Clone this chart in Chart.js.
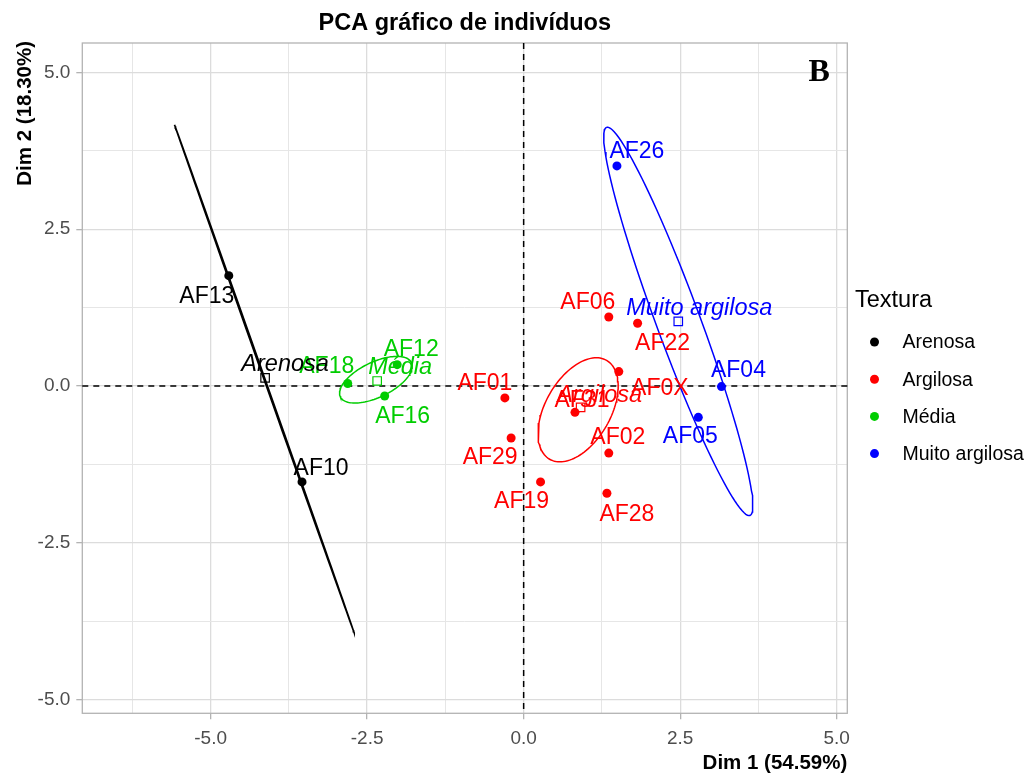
<!DOCTYPE html>
<html>
<head>
<meta charset="utf-8">
<title>PCA gráfico de indivíduos</title>
<script src="https://cdn.jsdelivr.net/npm/chart.js@4"></script>
<style>
  body { margin: 0; background: #fff; }
  canvas { display: block; }
</style>
</head>
<body>
<canvas id="pca" width="1031" height="773"></canvas>
<script>
// soil texture groups and their colours
var groups = ['Arenosa', 'Argilosa', 'Média', 'Muito argilosa'];
var groupColors = ['#000000', '#FF0000', '#00CD00', '#0000FF'];

// individuals: name, coordinates on Dim 1 / Dim 2 and texture group (index into groups)
var names   = ['AF13', 'AF10', 'AF18', 'AF12', 'AF16', 'AF06', 'AF22', 'AF0X', 'AF01', 'AF31', 'AF29', 'AF02', 'AF19', 'AF28', 'AF26', 'AF04', 'AF05'];
var dim1    = [-4.71, -3.54, -2.81, -2.02, -2.22, 1.36, 1.82, 1.52, -0.30, 0.82, -0.20, 1.36, 0.27, 1.33, 1.49, 3.16, 2.79];
var dim2    = [1.76, -1.53, 0.04, 0.34, -0.16, 1.10, 1.00, 0.23, -0.19, -0.42, -0.83, -1.07, -1.53, -1.71, 3.51, -0.01, -0.50];
var texture = [0, 0, 2, 2, 2, 1, 1, 1, 1, 1, 1, 1, 1, 1, 3, 3, 3];

// group centroids (open squares)
var centerX = [-4.13, 0.91, -2.34, 2.47];
var centerY = [0.13, -0.34, 0.08, 1.03];

// confidence ellipses: centre, semi-axes and rotation (degrees)
var ellX = [-4.14, 0.87, -2.36, 2.47];
var ellY = [0.11, -0.38, 0.10, 1.03];
var ellA = [4.30, 0.91, 0.63, 3.30];
var ellB = [0.01, 0.52, 0.28, 0.35];
var ellAngle = [109.5, 60, 25.7, 110.3];

// axis breaks (major every 2.5, minor in between)
var xTicks = [-6.25, -5, -3.75, -2.5, -1.25, 0, 1.25, 2.5, 3.75, 5];
var yTicks = [-5, -3.75, -2.5, -1.25, 0, 1.25, 2.5, 3.75, 5];

// text nudges in pixels for the repelled labels
var labelNudge = {
  AF13: [-22, 21], AF10: [19, -13], AF18: [-21, -17], AF12: [14, -15], AF16: [18, 21],
  AF06: [-21, -14], AF22: [25, 20], AF0X: [41, 17], AF01: [-20, -14], AF31: [7, -12],
  AF29: [-21, 20], AF02: [9, -15], AF19: [-19, 20], AF28: [20, 21],
  AF26: [20, -14], AF04: [17, -16], AF05: [-8, 19]
};
var groupNudge = [[20, -13], [19, -12], [23, -14], [21, -13]];

var SANS = '"Liberation Sans", Arial, Helvetica, sans-serif';

function isMajor(v) {
  return Math.abs(v / 2.5 - Math.round(v / 2.5)) < 1e-6;
}

function ellipse(cx, cy, a, b, deg) {
  var t = deg * Math.PI / 180, pts = [];
  for (var i = 0; i <= 120; i++) {
    var s = i / 120 * 2 * Math.PI;
    var ex = a * Math.cos(s), ey = b * Math.sin(s);
    pts.push({ x: cx + ex * Math.cos(t) - ey * Math.sin(t), y: cy + ex * Math.sin(t) + ey * Math.cos(t) });
  }
  return pts;
}

var datasets = [];
for (var g = 0; g < groups.length; g++) {
  datasets.push({
    label: groups[g] + ' ellipse',
    data: ellipse(ellX[g], ellY[g], ellA[g], ellB[g], ellAngle[g]),
    showLine: true, fill: false, pointRadius: 0, tension: 0,
    borderColor: groupColors[g], borderWidth: 1.5,
    order: 3
  });
  var pts = [];
  for (var i = 0; i < names.length; i++) {
    if (texture[i] === g) pts.push({ x: dim1[i], y: dim2[i], name: names[i] });
  }
  datasets.push({
    label: groups[g],
    data: pts,
    pointRadius: 4.5, pointBorderWidth: 0,
    backgroundColor: groupColors[g], borderColor: groupColors[g],
    order: 1
  });
  datasets.push({
    label: groups[g] + ' centro',
    data: [{ x: centerX[g], y: centerY[g] }],
    pointStyle: 'rect', pointRadius: 6, pointBorderWidth: 1.2,
    borderColor: groupColors[g], backgroundColor: 'rgba(0,0,0,0)',
    order: 2
  });
}

function axis(ticks, min, max, pad) {
  return {
    type: 'linear', min: min, max: max,
    afterBuildTicks: function (s) { s.ticks = ticks.map(function (v) { return { value: v }; }); },
    ticks: {
      autoSkip: false, maxRotation: 0, padding: pad,
      color: '#4d4d4d', font: { family: SANS, size: 19 },
      callback: function (v) { return isMajor(v) ? v.toFixed(1) : ''; }
    },
    grid: {
      drawTicks: true, tickLength: 6,
      color: function (c) { return isMajor(c.tick.value) ? '#dcdcdc' : '#e6e6e6'; },
      lineWidth: function (c) { return isMajor(c.tick.value) ? 1.3 : 1; },
      tickColor: function (c) { return isMajor(c.tick.value) ? '#b3b3b3' : 'rgba(0,0,0,0)'; },
      tickWidth: 1.3
    },
    border: { display: false }
  };
}

var xScale = axis(xTicks, -7.05, 5.17, 8);
xScale.afterFit = function (s) { s.height = 59.7; };
var yScale = axis(yTicks, -5.22, 5.47, 6);
yScale.afterFit = function (s) { s.width = 82.3; };

var decor = {
  id: 'decor',
  beforeDatasetsDraw: function (chart) {
    var ctx = chart.ctx, a = chart.chartArea;
    var x0 = chart.scales.x.getPixelForValue(0), y0 = chart.scales.y.getPixelForValue(0);
    ctx.save();
    ctx.strokeStyle = '#b3b3b3';
    ctx.lineWidth = 1.3;
    ctx.strokeRect(a.left, a.top, a.right - a.left, a.bottom - a.top);
    ctx.strokeStyle = '#000';
    ctx.lineWidth = 1.5;
    ctx.setLineDash([6, 5]);
    ctx.beginPath();
    ctx.moveTo(a.left, y0); ctx.lineTo(a.right, y0);
    ctx.moveTo(x0, a.top); ctx.lineTo(x0, a.bottom);
    ctx.stroke();
    ctx.restore();
  },
  afterDatasetsDraw: function (chart) {
    var ctx = chart.ctx, sx = chart.scales.x, sy = chart.scales.y;
    ctx.save();
    ctx.textAlign = 'center';
    ctx.textBaseline = 'middle';
    ctx.font = '23px ' + SANS;
    for (var i = 0; i < names.length; i++) {
      var n = labelNudge[names[i]];
      ctx.fillStyle = groupColors[texture[i]];
      ctx.fillText(names[i], sx.getPixelForValue(dim1[i]) + n[0], sy.getPixelForValue(dim2[i]) + n[1]);
    }
    ctx.font = 'italic 23.5px ' + SANS;
    for (var g = 0; g < groups.length; g++) {
      ctx.fillStyle = groupColors[g];
      ctx.fillText(groups[g], sx.getPixelForValue(centerX[g]) + groupNudge[g][0], sy.getPixelForValue(centerY[g]) + groupNudge[g][1]);
    }
    // panel tag
    ctx.fillStyle = '#000';
    ctx.font = 'bold 32px "Liberation Serif", "Times New Roman", serif';
    ctx.fillText('B', sx.getPixelForValue(4.72), sy.getPixelForValue(5.0));
    ctx.restore();
  },
  afterDraw: function (chart) {
    var ctx = chart.ctx, a = chart.chartArea;
    ctx.save();
    ctx.fillStyle = '#000';
    ctx.textBaseline = 'alphabetic';
    // title centred over the panel
    ctx.font = 'bold 23.5px ' + SANS;
    ctx.textAlign = 'center';
    ctx.fillText('PCA gráfico de indivíduos', (a.left + a.right) / 2, 29.5);
    // axis titles
    ctx.font = 'bold 20.5px ' + SANS;
    ctx.textAlign = 'right';
    ctx.fillText('Dim 1 (54.59%)', a.right, 769);
    ctx.save();
    ctx.translate(30.5, a.top - 2);
    ctx.rotate(-Math.PI / 2);
    ctx.fillText('Dim 2 (18.30%)', 0, 0);
    ctx.restore();
    // legend
    ctx.textAlign = 'left';
    ctx.textBaseline = 'middle';
    ctx.font = '23.5px ' + SANS;
    ctx.fillText('Textura', 855, 301);
    ctx.font = '19.5px ' + SANS;
    for (var g = 0; g < groups.length; g++) {
      var y = 342 + g * 37.2;
      ctx.fillStyle = groupColors[g];
      ctx.beginPath();
      ctx.arc(874.5, y, 4.5, 0, 2 * Math.PI);
      ctx.fill();
      ctx.fillStyle = '#000';
      ctx.fillText(groups[g], 902.5, y + 1);
    }
    ctx.restore();
  }
};

new Chart(document.getElementById('pca'), {
  type: 'scatter',
  data: { datasets: datasets },
  options: {
    responsive: false,
    animation: false,
    devicePixelRatio: 1,
    layout: { padding: { left: 0, top: 43, right: 183.7, bottom: 0 } },
    plugins: { legend: { display: false }, tooltip: { enabled: false } },
    scales: { x: xScale, y: yScale }
  },
  plugins: [decor]
});
</script>
</body>
</html>
